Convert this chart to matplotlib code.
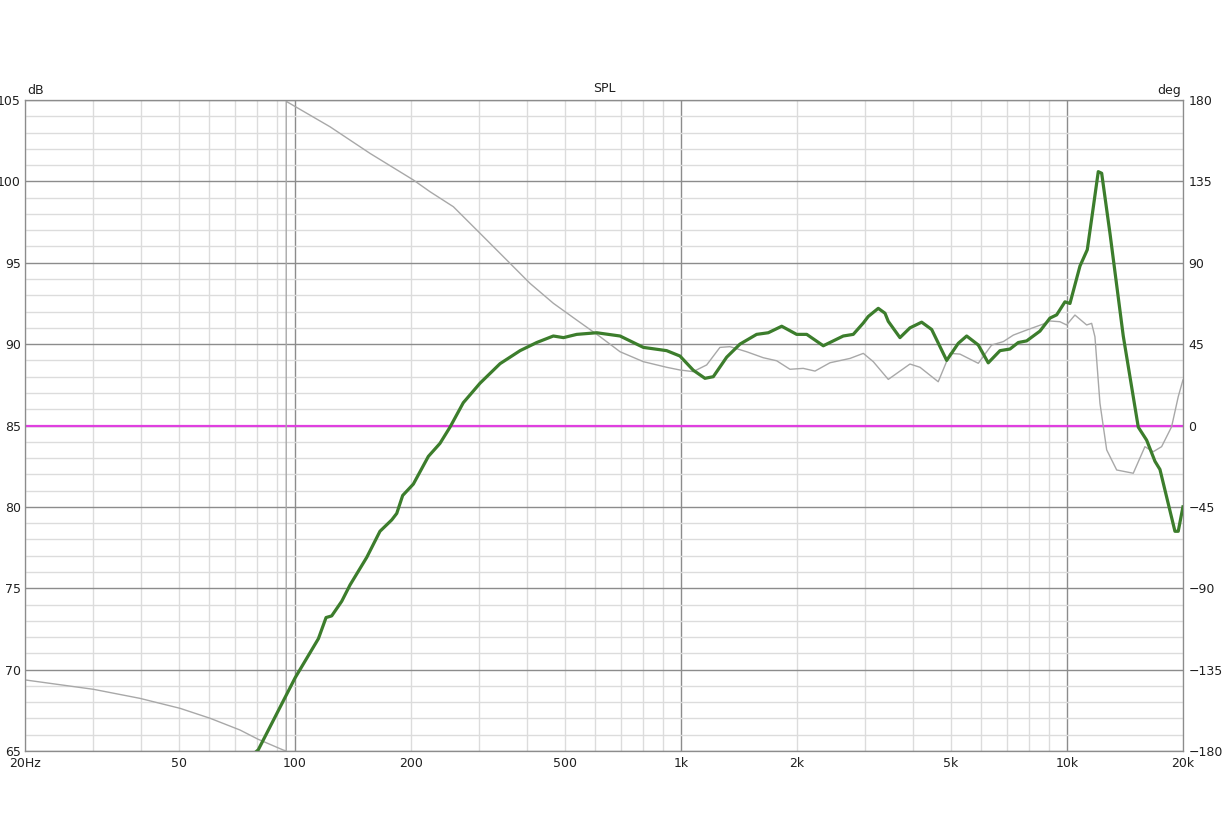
import matplotlib.pyplot as plt
from matplotlib.ticker import FixedLocator, FixedFormatter, NullFormatter

# SPL (dB)
spl_freq = [78, 80.4, 100.2, 115.1, 120.5, 124.6, 132.3, 139, 153.6, 166.2, 178.3,
            183.7, 190.3, 202.8, 221.8, 237.7, 252.4, 273.2, 301.9, 340.2, 383.4,
            423.4, 467.5, 496.6, 537.6, 605.7, 696, 800, 919, 995, 1077, 1155,
            1214, 1315, 1423, 1572, 1685, 1826, 1996, 2120, 2340, 2636, 2798,
            2971, 3060, 3248, 3381, 3448, 3697, 3924, 4208, 4467, 4885, 5235,
            5504, 5898, 6260, 6714, 7127, 7489, 7873, 8521, 9046, 9416,
            9893, 10193, 10820, 11302, 11713, 12068, 12316, 12942, 14008, 15320,
            16105, 16926, 17436, 18148, 19067, 19444, 20000]
spl_db = [64.8, 65.07, 69.5, 71.9, 73.2, 73.3, 74.2, 75.2, 76.9, 78.5, 79.2,
          79.6, 80.7, 81.4, 83.1, 83.9, 84.9, 86.4, 87.6, 88.8, 89.6,
          90.1, 90.5, 90.4, 90.6, 90.7, 90.5, 89.8, 89.6, 89.27, 88.4, 87.9,
          88.0, 89.2, 90.0, 90.6, 90.7, 91.1, 90.6, 90.6, 89.9, 90.5, 90.6,
          91.3, 91.7, 92.2, 91.9, 91.4, 90.4, 91.0, 91.35, 90.9, 89.0, 90.05,
          90.5, 89.95, 88.85, 89.6, 89.7, 90.1, 90.2, 90.8, 91.6, 91.8,
          92.6, 92.5, 94.8, 95.8, 98.4, 100.6, 100.5, 96.8, 90.5, 84.9,
          84.1, 82.8, 82.3, 80.6, 78.5, 78.5, 80.0]

# Fase (grados), con el salto de -180 a 180
ph_freq = [20, 30.1, 39.7, 50.4, 60.3, 72.1, 80.3, 93.4, 95.0, 95.0, 95.5, 123.4,
           156.6, 202.8, 224, 257.5, 301.9, 361, 406.8, 467.5, 537.6, 618, 696,
           800, 919, 995, 1077, 1167, 1263, 1341, 1481, 1635, 1772, 1918, 2076,
           2227, 2435, 2744, 2971, 3153, 3448, 3924, 4166, 4645, 4982, 5287,
           5898, 6388, 6849, 7270, 7873, 8690, 9046, 9600, 9990, 10500, 11260,
           11600, 11830, 12190, 12690, 13470, 14870, 15940, 16750, 17610, 18690,
           19444, 20000]
ph_deg = [-140.7, -145.9, -150.9, -156.4, -161.9, -168.4, -173.5, -179.5, -180, 180,
          179, 165.2, 150.5, 135.8, 129.3, 121.0, 106.3, 89.7, 78.6, 67.6, 58.3,
          49.1, 40.8, 35.3, 32.2, 30.7, 29.8, 33.5, 43.2, 43.6, 40.8, 37.5, 35.8,
          31.1, 31.6, 30.1, 34.7, 37.1, 39.9, 35.3, 25.5, 34.0, 32.2, 24.2, 39.9,
          39.5, 34.4, 44.5, 46.4, 50.0, 52.8, 56.1, 57.8, 57.4, 55.6, 61.1, 55.6,
          56.5, 49.1, 12.3, -13.5, -24.6, -26.4, -11.7, -14.5, -11.7, -0.7,
          15.9, 25.2]

ref_db = 85

x_major = [100, 1000, 10000]
x_minor = [20, 30, 40, 50, 60, 70, 80, 90, 200, 300, 400, 500, 600, 700, 800, 900,
           2000, 3000, 4000, 5000, 6000, 7000, 8000, 9000, 20000]
x_minor_labels = ['20Hz', '', '', '50', '', '', '', '', '200', '', '', '500', '', '', '', '',
                  '2k', '', '', '5k', '', '', '', '', '20k']
x_major_labels = ['100', '1k', '10k']
db_ticks = [65, 70, 75, 80, 85, 90, 95, 100, 105]
deg_ticks = [-180, -135, -90, -45, 0, 45, 90, 135, 180]

fig = plt.figure(figsize=(12.27, 8.22), dpi=100)
ax = fig.add_axes([0.0204, 0.0864, 0.9437, 0.7919])
ax2 = ax.twinx()
ax3 = ax.twinx()

ax.set_xscale('log')
ax.set_xlim(20, 20000)
ax.set_ylim(65, 105)
ax2.set_ylim(-180, 180)
ax3.set_ylim(65, 105)

ax.xaxis.set_major_locator(FixedLocator(x_major))
ax.xaxis.set_major_formatter(FixedFormatter(x_major_labels))
ax.xaxis.set_minor_locator(FixedLocator(x_minor))
ax.xaxis.set_minor_formatter(FixedFormatter(x_minor_labels))
ax.set_yticks(db_ticks)
ax.set_yticks(range(65, 106), minor=True)
ax.yaxis.set_minor_formatter(NullFormatter())
ax2.set_yticks(deg_ticks)
ax3.set_yticks([])

ax.grid(which='minor', color='#dcdcdc', lw=1.0)
ax.grid(which='major', color='#8c8c8c', lw=1.0)
ax.set_axisbelow(True)

for a in (ax, ax2):
    a.tick_params(which='both', length=0, labelsize=9, colors='#202020')
ax.tick_params(axis='x', which='both', pad=4)
ax.tick_params(axis='y', pad=3)
ax2.tick_params(axis='y', pad=4)
for a in (ax, ax2, ax3):
    for s in a.spines.values():
        s.set_color('#8c8c8c')

ax.axhline(ref_db, color='#e040e0', lw=1.6)
ax2.plot(ph_freq, ph_deg, color='#a8a8a8', lw=1.0)
ax3.plot(spl_freq, spl_db, color='#3c7d2c', lw=2.3)

ax.set_title('SPL', fontsize=9, pad=6, color='#202020')
ax.text(0.002, 1.004, 'dB', transform=ax.transAxes, fontsize=9, va='bottom', ha='left', color='#202020')
ax.text(0.998, 1.004, 'deg', transform=ax.transAxes, fontsize=9, va='bottom', ha='right', color='#202020')

fig.savefig('out.png', dpi=100, facecolor='white')
